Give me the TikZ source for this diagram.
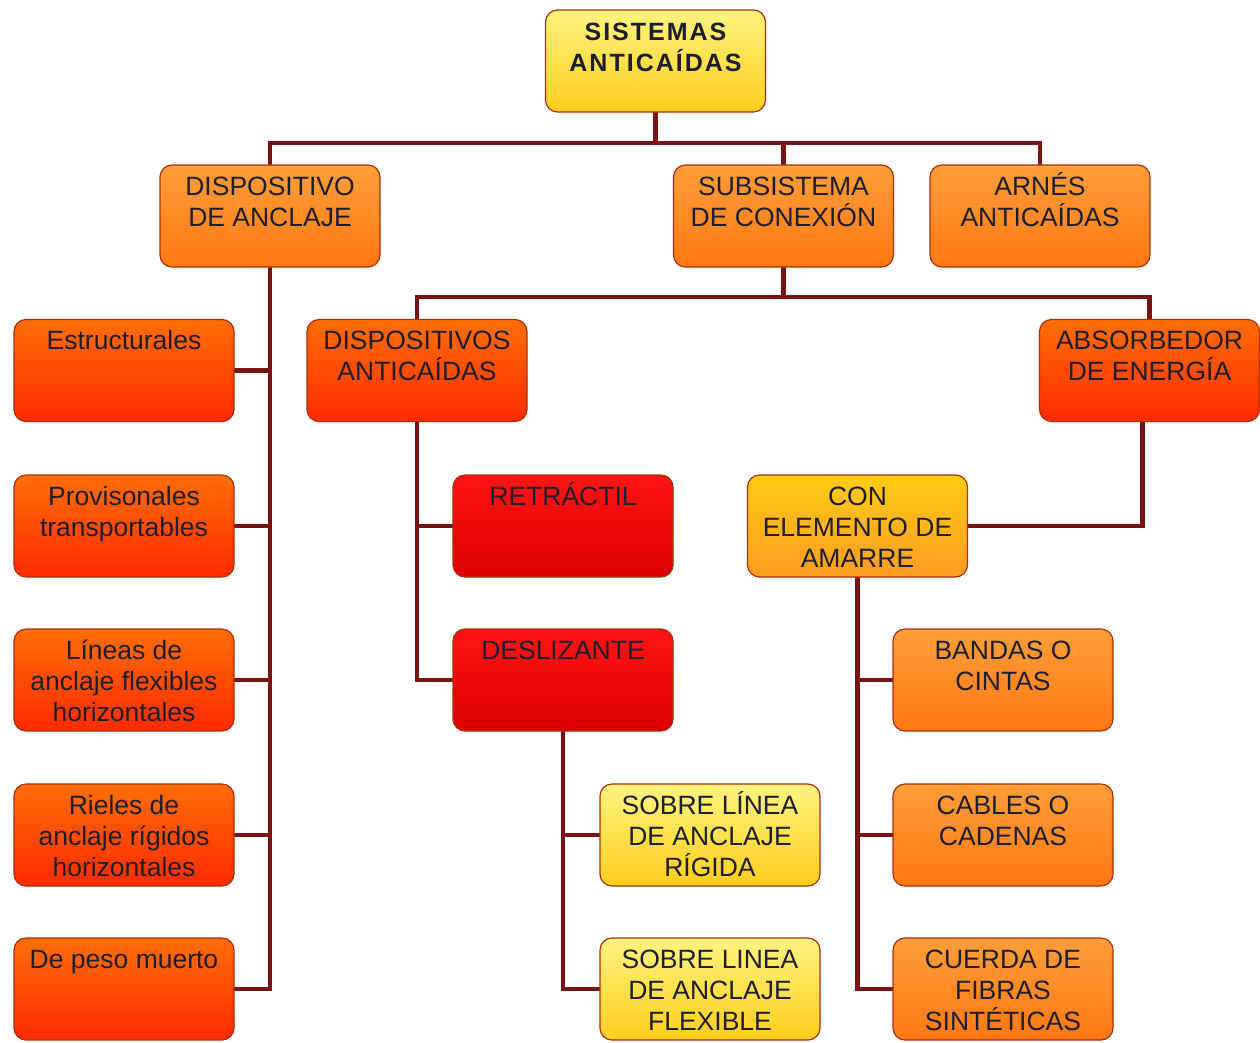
\documentclass[tikz,border=0pt]{standalone}
\usepackage{fontspec}
\setmainfont{Liberation Sans}
\pgfdeclarelayer{bg}
\pgfsetlayers{bg,main}
\definecolor{conn}{HTML}{7A1414}
\definecolor{edge}{HTML}{A8300C}
\definecolor{ink}{HTML}{1E1E2C}
\definecolor{yelT}{HTML}{FFF480}
\definecolor{yelB}{HTML}{FFCE1C}
\definecolor{orT}{HTML}{FF9E3A}
\definecolor{orB}{HTML}{FF7812}
\definecolor{roT}{HTML}{FF6E06}
\definecolor{roB}{HTML}{FF2A02}
\definecolor{reT}{HTML}{FF1414}
\definecolor{reB}{HTML}{DC0000}
\definecolor{goT}{HTML}{FFCC14}
\definecolor{goB}{HTML}{FF9C22}
\newcommand\bxt[1]{\parbox[c][102pt][t]{220pt}{\centering\fontsize{26.5}{31}\selectfont\rule{0pt}{30pt}#1\par}}
\tikzset{
  box/.style={draw=edge, line width=1.2pt, rounded corners=12pt, inner sep=0pt, text=ink},
  yel/.style={box, top color=yelT, bottom color=yelB},
  ora/.style={box, top color=orT, bottom color=orB},
  rog/.style={box, top color=roT, bottom color=roB},
  red/.style={box, top color=reT, bottom color=reB},
  gol/.style={box, top color=goT, bottom color=goB},
  link/.style={draw=conn, line width=4.5pt, line cap=rect}
}
\begin{document}
\begin{tikzpicture}[x=1pt,y=-1pt]
\useasboundingbox (0,0) rectangle (1260,1042);
\node[yel] (top) at (655.5,61) {\parbox[c][102pt][t]{220pt}{\centering\fontsize{25}{31}\selectfont\bfseries\addfontfeatures{LetterSpace=8}\rule{0pt}{30pt}SISTEMAS\\ANTICAÍDAS\par}};
\node[ora] (anc) at (270,216) {\bxt{DISPOSITIVO\\DE ANCLAJE}};
\node[ora] (sub) at (783.5,216) {\bxt{SUBSISTEMA\\DE CONEXIÓN}};
\node[ora] (arn) at (1040,216) {\bxt{ARNÉS\\ANTICAÍDAS}};
\node[rog] (e1) at (124,370.5) {\bxt{Estructurales}};
\node[rog] (e2) at (124,526) {\bxt{Provisonales\\transportables}};
\node[rog] (e3) at (124,680) {\bxt{Líneas de\\anclaje flexibles\\horizontales}};
\node[rog] (e4) at (124,835) {\bxt{Rieles de\\anclaje rígidos\\horizontales}};
\node[rog] (e5) at (124,989) {\bxt{De peso muerto}};
\node[rog] (dis) at (417,370.5) {\bxt{DISPOSITIVOS\\ANTICAÍDAS}};
\node[rog] (abs) at (1149.5,370.5) {\bxt{ABSORBEDOR\\DE ENERGÍA}};
\node[red] (ret) at (563,526) {\bxt{RETRÁCTIL}};
\node[red] (des) at (563,680) {\bxt{DESLIZANTE}};
\node[gol] (con) at (857.5,526) {\bxt{CON\\ELEMENTO DE\\AMARRE}};
\node[yel] (s1) at (710,835) {\bxt{SOBRE LÍNEA\\DE ANCLAJE\\RÍGIDA}};
\node[yel] (s2) at (710,989) {\bxt{SOBRE LINEA\\DE ANCLAJE\\FLEXIBLE}};
\node[ora] (c1) at (1003,680) {\bxt{BANDAS O\\CINTAS}};
\node[ora] (c2) at (1003,835) {\bxt{CABLES O\\CADENAS}};
\node[ora] (c3) at (1003,989) {\bxt{CUERDA DE\\FIBRAS\\SINTÉTICAS}};
\coordinate (j1) at (655.5,143);
\coordinate (j2) at (783.5,297);
\begin{pgfonlayer}{bg}
\fill[white] (0,0) rectangle (1260,1042);
\draw[link] (top.south) -- (j1);
\draw[link] (anc.north) |- (j1);
\draw[link] (sub.north) -- (sub.north |- j1);
\draw[link] (arn.north) |- (j1);
\draw[link] (anc.south) |- (e5.east);
\foreach \n in {e1,e2,e3,e4} \draw[link] (\n.east) -- (\n.east -| anc.south);
\draw[link] (sub.south) -- (j2);
\draw[link] (dis.north) |- (j2);
\draw[link] (abs.north) |- (j2);
\draw[link] (dis.south) |- (des.west);
\draw[link] (ret.west) -- (ret.west -| dis.south);
\draw[link] ([xshift=-7pt]abs.south) |- (con.east);
\draw[link] (des.south) |- (s2.west);
\draw[link] (s1.west) -- (s1.west -| des.south);
\draw[link] (con.south) |- (c3.west);
\draw[link] (c1.west) -- (c1.west -| con.south);
\draw[link] (c2.west) -- (c2.west -| con.south);
\end{pgfonlayer}
\end{tikzpicture}
\end{document}
